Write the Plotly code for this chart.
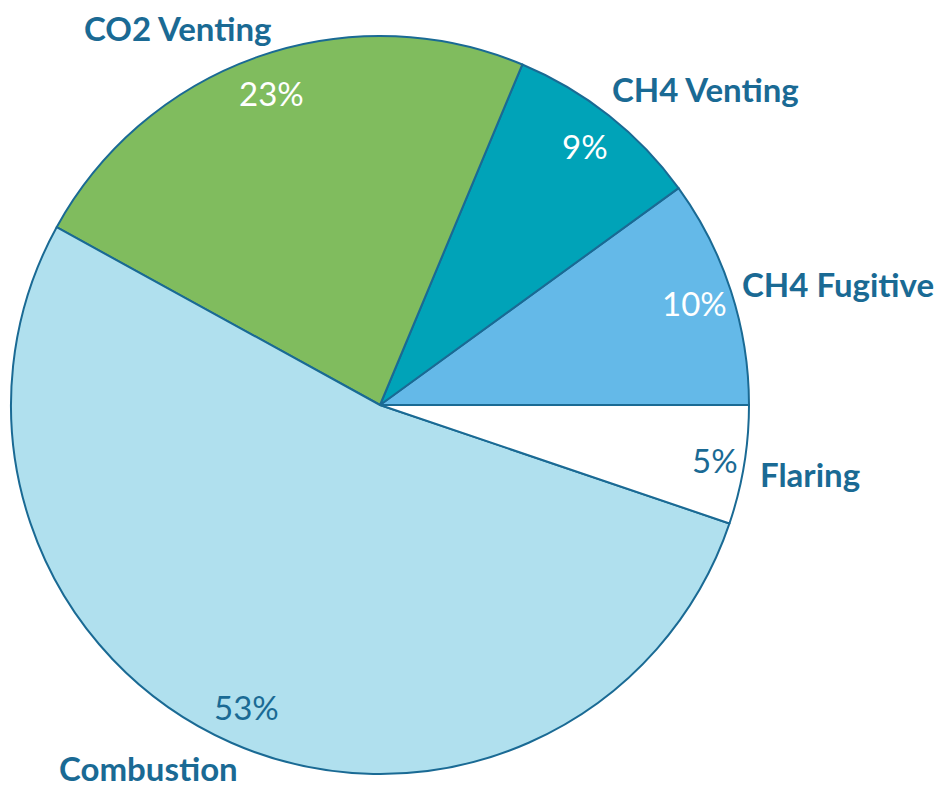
import math
import plotly.graph_objects as go

labels = ["CH4 Fugitive", "CH4 Venting", "CO2 Venting", "Combustion", "Flaring"]
values = [10.0, 8.7, 23.3, 52.8, 5.2]
colors = ["#64B9E8", "#00A3B8", "#80BC5E", "#B0E0EE", "#FFFFFF"]
pct_colors = ["#FFFFFF", "#FFFFFF", "#FFFFFF", "#1A6A94", "#1A6A94"]

W, H = 943, 790
OFF = 8  # page body margin
CX, CY, R = 380 - OFF, 405 - OFF, 369
LINE = "#1A6A94"

total = sum(values)
# plotly counterclockwise: first slice ends at 'rotation'; shift so it starts at 3 o'clock
rot = 90 - values[0] / total * 360

fig = go.Figure(go.Pie(
    labels=labels, values=values, sort=False, direction="counterclockwise",
    rotation=rot, marker=dict(colors=colors, line=dict(color=LINE, width=2)),
    textinfo="none", hoverinfo="label+percent", showlegend=False,
    domain=dict(x=[(CX - R) / W, (CX + R) / W], y=[1 - (CY + R) / H, 1 - (CY - R) / H]),
))

# label placement style: (angle offset deg, radius factor)
label_style = {
    "CH4 Fugitive": (-3.2, 1.285),
    "CH4 Venting": (-7.5, 1.23),
    "CO2 Venting": (9.0, 1.16),
    "Combustion": (-8.8, 1.168),
    "Flaring": (0.3, 1.18),
}
pct_radius = {"Flaring": 0.92}

start = 0.0
annotations = []
for lab, v, pc in zip(labels, values, pct_colors):
    span = v / total * 360
    mid = start + span / 2
    start += span
    a = math.radians(mid)
    pr = pct_radius.get(lab, 0.895)
    px = CX + pr * R * math.cos(a)
    py = CY - pr * R * math.sin(a)
    annotations.append(dict(
        x=px / W, y=1 - py / H, xref="paper", yref="paper", showarrow=False,
        text=f"{round(v / total * 100):d}%", xanchor="center", yanchor="middle",
        font=dict(family="Lato", size=33, color=pc)))
    off, rf = label_style[lab]
    b = math.radians(mid + off)
    lx = CX + rf * R * math.cos(b)
    ly = CY - rf * R * math.sin(b)
    annotations.append(dict(
        x=lx / W, y=1 - ly / H, xref="paper", yref="paper", showarrow=False,
        text=f"<b>{lab}</b>", xanchor="center", yanchor="middle",
        font=dict(family="Lato", size=33, color=LINE)))

fig.update_layout(
    width=W, height=H, margin=dict(l=0, r=0, t=0, b=0),
    paper_bgcolor="white", plot_bgcolor="white", annotations=annotations,
)
fig.write_html("out.html")
